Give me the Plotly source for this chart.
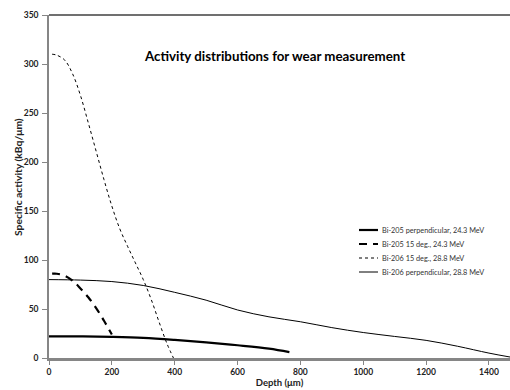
import plotly.graph_objects as go

# Bi-205 perpendicular, 24.3 MeV
x_205_perp = [0, 100, 200, 300, 400, 500, 600, 700, 765]
y_205_perp = [22, 22, 21.5, 20.5, 18.5, 16, 13, 9.5, 6]

# Bi-205 15 deg., 24.3 MeV
x_205_15 = [10, 25, 50, 75, 100, 125, 150, 175, 200]
y_205_15 = [86, 86, 84, 79, 71, 62, 51, 38, 24]

# Bi-206 15 deg., 28.8 MeV
x_206_15 = [10, 25, 50, 75, 100, 125, 150, 175, 200, 225, 250, 275, 300, 325, 350, 375, 396]
y_206_15 = [310, 309, 304, 290, 268, 240, 211, 182, 155, 132, 114, 97, 80, 60, 37, 15, 0]

# Bi-206 perpendicular, 28.8 MeV
x_206_perp = [0, 100, 200, 300, 400, 500, 600, 700, 800, 900, 1000, 1100, 1200, 1300, 1400, 1467]
y_206_perp = [80, 79.5, 78, 74, 67, 59, 49, 42, 37, 31, 26, 22, 18, 12, 5, 1]

names = ["Bi-205 perpendicular, 24.3 MeV", "Bi-205 15 deg., 24.3 MeV",
         "Bi-206 15 deg., 28.8 MeV", "Bi-206 perpendicular, 28.8 MeV"]

x_ticks = [0, 200, 400, 600, 800, 1000, 1200, 1400]
y_ticks = [0, 50, 100, 150, 200, 250, 300, 350]

FONT = "Lato"
styles = [dict(color="black", width=2.2),
          dict(color="black", width=2.2, dash="8px,6px"),
          dict(color="black", width=1, dash="3px,3px"),
          dict(color="black", width=1)]
data = [(x_205_perp, y_205_perp), (x_205_15, y_205_15),
        (x_206_15, y_206_15), (x_206_perp, y_206_perp)]

fig = go.Figure()
for (xs, ys), nm, st in zip(data, names, styles):
    fig.add_trace(go.Scatter(x=xs, y=ys, mode="lines", name=nm,
                             line=dict(shape="spline", **st), showlegend=False))

# plot area in pixels: left 49, right 510, top 15, bottom 358
def px_to_paper(px, py):
    return (px - 49) / 461, (358 - py) / 343

# manual legend
leg_rows = [230, 244, 258, 272]
for nm, st, py in zip(names, styles, leg_rows):
    x0, y0 = px_to_paper(359, py)
    x1, _ = px_to_paper(378, py)
    fig.add_shape(type="line", xref="paper", yref="paper", x0=x0, x1=x1, y0=y0, y1=y0,
                  line=st)
    tx, _ = px_to_paper(380, py)
    fig.add_annotation(text=nm, xref="paper", yref="paper", x=tx, y=y0,
                       xanchor="left", yanchor="middle", showarrow=False,
                       font=dict(size=7.3, family=FONT, color="#333"))

fig.update_layout(
    width=510, height=390,
    margin=dict(l=49, r=0, t=15, b=32),
    paper_bgcolor="white", plot_bgcolor="white",
    font=dict(family=FONT, color="#222"),
    showlegend=False,
    xaxis=dict(range=[0, 1467], tickvals=x_ticks, showgrid=False, zeroline=False,
               showline=True, linecolor="#868686", linewidth=2.5,
               ticks="outside", ticklen=4, tickcolor="#868686",
               tickfont=dict(size=8.5, family=FONT, weight="bold", color="#222"),
               title=dict(text="Depth (μm)", standoff=4,
                          font=dict(size=9.5, family=FONT, weight="bold", color="#222"))),
    yaxis=dict(range=[0, 350], tickvals=y_ticks, showgrid=False, zeroline=False,
               showline=True, linecolor="#868686", linewidth=1.5,
               ticks="outside", ticklen=5, tickcolor="#868686", ticklabelstandoff=2,
               tickfont=dict(size=8.5, family=FONT, weight="bold", color="#222")),
)

fig.add_shape(type="line", xref="paper", yref="paper", x0=0, x1=1, y0=1, y1=1,
              line=dict(color="#404040", width=1.5))

ytx, yty = px_to_paper(18, 177)
fig.add_annotation(text="Specific activity (kBq/μm)", xref="paper", yref="paper",
                   x=ytx, y=yty, textangle=-90, showarrow=False,
                   xanchor="center", yanchor="middle",
                   font=dict(size=10.3, family=FONT, weight="bold", color="#222"))

fig.add_annotation(text="Activity distributions for wear measurement",
                   xref="paper", yref="paper", x=0.49, y=0.88, showarrow=False,
                   xanchor="center", yanchor="middle",
                   font=dict(size=13.3, family=FONT, weight="bold", color="black"))

fig.write_html("out.html")
